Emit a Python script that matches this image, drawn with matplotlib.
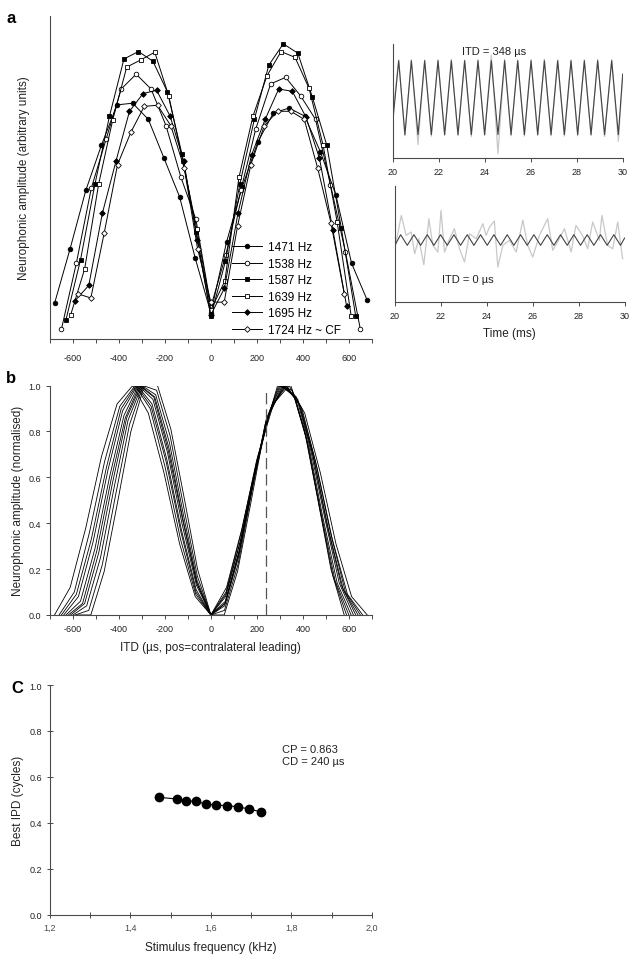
import matplotlib
matplotlib.use('Agg')
import matplotlib.pyplot as plt
from matplotlib.ticker import MultipleLocator, FuncFormatter, NullLocator

plt.rcParams['font.family'] = ['Liberation Sans', 'DejaVu Sans']
plt.rcParams['axes.linewidth'] = 0.8
plt.rcParams['axes.unicode_minus'] = False

# ---------------- data ----------------
itd_1471 = [-680, -612, -544, -476, -408, -340, -272, -204, -136, -68, 0, 68, 136, 204, 272, 340, 408, 476, 544, 612, 680]
itd_1515 = [-660, -594, -528, -462, -396, -330, -264, -198, -132, -66, 0, 66, 132, 198, 264, 330, 396, 462, 528, 594, 660]
itd_1538 = [-650, -585, -520, -455, -390, -325, -260, -195, -130, -65, 0, 65, 130, 195, 260, 325, 390, 455, 520, 585, 650]
itd_1563 = [-640, -576, -512, -448, -384, -320, -256, -192, -128, -64, 0, 64, 128, 192, 256, 320, 384, 448, 512, 576, 640]
itd_1587 = [-630, -567, -504, -441, -378, -315, -252, -189, -126, -63, 0, 63, 126, 189, 252, 315, 378, 441, 504, 567, 630]
itd_1613 = [-620, -558, -496, -434, -372, -310, -248, -186, -124, -62, 0, 62, 124, 186, 248, 310, 372, 434, 496, 558, 620]
itd_1639 = [-610, -549, -488, -427, -366, -305, -244, -183, -122, -61, 0, 61, 122, 183, 244, 305, 366, 427, 488, 549, 610]
itd_1667 = [-600, -540, -480, -420, -360, -300, -240, -180, -120, -60, 0, 60, 120, 180, 240, 300, 360, 420, 480, 540, 600]
itd_1695 = [-590, -531, -472, -413, -354, -295, -236, -177, -118, -59, 0, 59, 118, 177, 236, 295, 354, 413, 472, 531, 590]
itd_1724 = [-580, -522, -464, -406, -348, -290, -232, -174, -116, -58, 0, 58, 116, 174, 232, 290, 348, 406, 464, 522, 580]

# panel a: raw neurophonic amplitude (arbitrary units)
amp_1471 = [0.11, 0.28, 0.46, 0.60, 0.725, 0.73, 0.68, 0.56, 0.44, 0.25, 0.08, 0.30, 0.47, 0.61, 0.70, 0.715, 0.69, 0.58, 0.445, 0.234, 0.12]
amp_1538 = [0.03, 0.235, 0.467, 0.62, 0.774, 0.82, 0.774, 0.66, 0.50, 0.37, 0.10, 0.26, 0.46, 0.65, 0.79, 0.81, 0.753, 0.68, 0.478, 0.27, 0.03]
amp_1587 = [0.06, 0.245, 0.48, 0.69, 0.867, 0.89, 0.86, 0.765, 0.573, 0.33, 0.07, 0.24, 0.48, 0.68, 0.848, 0.914, 0.885, 0.75, 0.60, 0.344, 0.07]
amp_1639 = [0.074, 0.217, 0.48, 0.678, 0.842, 0.864, 0.888, 0.752, 0.55, 0.34, 0.09, 0.18, 0.50, 0.69, 0.815, 0.89, 0.872, 0.776, 0.60, 0.363, 0.072]
amp_1695 = [0.119, 0.166, 0.389, 0.55, 0.705, 0.76, 0.77, 0.69, 0.55, 0.305, 0.075, 0.157, 0.39, 0.57, 0.68, 0.774, 0.767, 0.688, 0.56, 0.336, 0.103]
amp_1724 = [0.14, 0.127, 0.328, 0.54, 0.64, 0.72, 0.724, 0.66, 0.53, 0.28, 0.114, 0.114, 0.35, 0.54, 0.66, 0.705, 0.705, 0.68, 0.53, 0.36, 0.14]
labels_a = ['1471 Hz', '1538 Hz', '1587 Hz', '1639 Hz', '1695 Hz', '1724 Hz ~ CF']

# panel b: normalised amplitude
norm_1471 = [0.00, 0.12, 0.38, 0.69, 0.92, 1.00, 0.88, 0.62, 0.31, 0.08, 0.00, 0.12, 0.38, 0.69, 0.92, 1.00, 0.88, 0.62, 0.31, 0.08, 0.00]
norm_1515 = [0.00, 0.10, 0.36, 0.67, 0.91, 1.00, 0.90, 0.64, 0.33, 0.09, 0.00, 0.10, 0.36, 0.67, 0.91, 1.00, 0.90, 0.64, 0.33, 0.09, 0.00]
norm_1538 = [0.00, 0.09, 0.33, 0.64, 0.90, 1.00, 0.91, 0.67, 0.36, 0.10, 0.00, 0.09, 0.33, 0.64, 0.90, 1.00, 0.91, 0.67, 0.36, 0.10, 0.00]
norm_1563 = [0.00, 0.08, 0.32, 0.63, 0.89, 1.00, 0.92, 0.68, 0.37, 0.11, 0.00, 0.08, 0.32, 0.63, 0.89, 1.00, 0.92, 0.68, 0.37, 0.11, 0.00]
norm_1587 = [0.00, 0.06, 0.29, 0.60, 0.87, 1.00, 0.94, 0.71, 0.40, 0.13, 0.00, 0.06, 0.29, 0.60, 0.87, 1.00, 0.94, 0.71, 0.40, 0.13, 0.00]
norm_1613 = [0.00, 0.05, 0.28, 0.59, 0.86, 1.00, 0.95, 0.72, 0.42, 0.14, 0.00, 0.05, 0.28, 0.59, 0.86, 1.00, 0.95, 0.72, 0.42, 0.14, 0.00]
norm_1639 = [0.00, 0.05, 0.27, 0.58, 0.86, 1.00, 0.95, 0.73, 0.42, 0.14, 0.00, 0.05, 0.27, 0.58, 0.86, 1.00, 0.95, 0.73, 0.42, 0.14, 0.00]
norm_1667 = [0.00, 0.04, 0.25, 0.56, 0.85, 1.00, 0.96, 0.75, 0.44, 0.15, 0.00, 0.04, 0.25, 0.56, 0.85, 1.00, 0.96, 0.75, 0.44, 0.15, 0.00]
norm_1695 = [0.00, 0.02, 0.22, 0.53, 0.83, 1.00, 0.98, 0.78, 0.47, 0.17, 0.00, 0.02, 0.22, 0.53, 0.83, 1.00, 0.98, 0.78, 0.47, 0.17, 0.00]
norm_1724 = [0.00, 0.00, 0.19, 0.49, 0.80, 1.00, 1.00, 0.81, 0.51, 0.20, 0.00, 0.00, 0.19, 0.49, 0.80, 1.00, 1.00, 0.81, 0.51, 0.20, 0.00]
cd_us = 240

# panel c: best IPD vs stimulus frequency
freq_khz = [1.471, 1.515, 1.538, 1.563, 1.587, 1.613, 1.639, 1.667, 1.695, 1.724]
best_ipd = [0.511, 0.504, 0.496, 0.493, 0.482, 0.477, 0.475, 0.470, 0.460, 0.448]
cp_text = 'CP = 0.863\nCD = 240 µs'

# waveform insets (time in ms)
t_top = [20.00, 20.25, 20.52, 20.80, 21.09, 21.38, 21.67, 21.96, 22.25, 22.54, 22.83, 23.12, 23.41,
         23.70, 23.99, 24.28, 24.57, 24.86, 25.14, 25.43, 25.72, 26.01, 26.30, 26.59, 26.88, 27.17,
         27.46, 27.75, 28.04, 28.33, 28.62, 28.91, 29.21, 29.52, 29.81, 30.00]
fit_top = [-0.60, 1.00, -1.00, 1.00, -1.00, 1.00, -1.00, 1.00, -1.00, 1.00, -1.00, 1.00, -1.00,
           1.00, -1.00, 1.00, -1.00, 1.00, -1.00, 1.00, -1.00, 1.00, -1.00, 1.00, -1.00, 1.00,
           -1.00, 1.00, -1.00, 1.00, -1.00, 1.00, -1.00, 1.00, -1.00, 0.64]
rec_top = [-0.40, 1.02, -1.03, 1.03, -1.27, 1.02, -1.04, 1.03, -1.02, 1.04, -1.03, 1.02, -1.05,
           1.03, -1.02, 1.15, -1.51, 1.04, -1.03, 1.02, -1.04, 1.03, -1.02, 1.04, -1.03, 1.02,
           -1.04, 1.02, -1.03, 1.03, -1.02, 1.04, -1.05, 1.03, -1.18, 0.60]
t_bot = [20.00, 20.25, 20.54, 20.83, 21.12, 21.41, 21.70, 21.99, 22.28, 22.57, 22.86, 23.15, 23.44,
         23.73, 24.02, 24.31, 24.60, 24.89, 25.18, 25.47, 25.76, 26.05, 26.34, 26.63, 26.92, 27.21,
         27.50, 27.79, 28.08, 28.37, 28.66, 28.95, 29.24, 29.53, 29.82, 30.00]
fit_bot = [-0.53, 0.53, -0.53, 0.53, -0.53, 0.53, -0.53, 0.53, -0.53, 0.53, -0.53, 0.53, -0.53,
           0.53, -0.53, 0.53, -0.53, 0.53, -0.53, 0.53, -0.53, 0.53, -0.53, 0.53, -0.53, 0.53,
           -0.53, 0.53, -0.53, 0.53, -0.53, 0.53, -0.53, 0.53, -0.53, 0.20]
t_noise = [20.00, 20.28, 20.49, 20.71, 20.86, 21.04, 21.26, 21.48, 21.65, 21.87, 22.01, 22.16, 22.38,
           22.59, 22.81, 23.03, 23.25, 23.54, 23.83, 23.97, 24.12, 24.33, 24.48, 24.70, 24.99, 25.28,
           25.57, 25.78, 26.00, 26.29, 26.65, 26.87, 27.16, 27.38, 27.67, 27.88, 28.17, 28.39, 28.61,
           28.90, 29.01, 29.26, 29.48, 29.70, 29.91]
rec_bot = [-0.87, 2.46, 0.46, 0.80, -1.37, 0.13, -2.47, 2.13, -0.53, -1.20, 2.96, -1.20, 0.13,
           1.13, -0.87, -2.20, 0.63, 0.13, 1.63, 0.46, 1.30, 1.90, -2.70, -0.53, -0.03, -1.20,
           2.00, -0.53, -1.70, 0.46, 2.13, -1.03, 0.13, 1.13, -1.20, 1.46, 0.46, -0.87, 1.80,
           -0.03, 2.46, -0.53, -0.87, 1.80, -1.87]

# ---------------- figure ----------------
SPINE = '#4a4a4a'
TXT = '#222222'
fig = plt.figure(figsize=(6.4, 9.62), dpi=100)


def style(ax):
    for s in ('top', 'right'):
        ax.spines[s].set_visible(False)
    for s in ('left', 'bottom'):
        ax.spines[s].set_color(SPINE)
    ax.tick_params(colors=SPINE, labelcolor=TXT, labelsize=6.5, length=3, width=0.7)


# Panel a main
ax = fig.add_axes([0.078, 0.6466, 0.503, 0.3357])
style(ax)
series_a = [(itd_1471, amp_1471, 'o', 'k'), (itd_1538, amp_1538, 'o', 'w'),
            (itd_1587, amp_1587, 's', 'k'), (itd_1639, amp_1639, 's', 'w'),
            (itd_1695, amp_1695, 'D', 'k'), (itd_1724, amp_1724, 'D', 'w')]
for (x, y, m, fc), lab in zip(series_a, labels_a):
    ms = 3.3 if m != 'D' else 2.9
    ax.plot(x, y, color='k', lw=0.7, marker=m, ms=ms, mfc=fc, mec='k', mew=0.6, label=lab)
ax.set_xlim(-700, 700)
ax.set_ylim(0, 1)
ax.xaxis.set_major_locator(MultipleLocator(200))
ax.xaxis.set_minor_locator(MultipleLocator(100))
ax.tick_params(axis='x', which='minor', length=3, width=0.7, colors=SPINE)
ax.tick_params(axis='x', which='major', pad=7)
ax.yaxis.set_major_locator(NullLocator())
ax.set_ylabel('Neurophonic amplitude (arbitrary units)', fontsize=8.5, labelpad=14, color=TXT)
ax.legend(loc='lower left', bbox_to_anchor=(0.565, 0.01), frameon=False, fontsize=8.5,
          handlelength=2.6, handletextpad=0.5, labelspacing=0.38, borderaxespad=0, borderpad=0)
fig.text(0.010, 0.989, 'a', fontsize=12, fontweight='bold', va='top')

# Panel a: top-right waveform
ax1 = fig.add_axes([0.614, 0.8347, 0.359, 0.1185])
style(ax1)
ax1.plot(t_top, rec_top, color='#c8c8c8', lw=0.9)
ax1.plot(t_top, fit_top, color='#444444', lw=0.8)
ax1.set_xlim(20, 30)
ax1.set_ylim(-1.63, 1.45)
ax1.xaxis.set_major_locator(MultipleLocator(2))
ax1.yaxis.set_major_locator(NullLocator())
ax1.text(22.99, 1.27, 'ITD = 348 µs', fontsize=8, va='center', ha='left', color=TXT)

# Panel a: bottom-right waveform
ax2 = fig.add_axes([0.617, 0.685, 0.359, 0.1206])
style(ax2)
ax2.plot(t_noise, rec_bot, color='#c8c8c8', lw=0.9)
ax2.plot(t_bot, fit_bot, color='#444444', lw=0.8)
ax2.set_xlim(20, 30)
ax2.set_ylim(-6.2, 5.4)
ax2.xaxis.set_major_locator(MultipleLocator(2))
ax2.yaxis.set_major_locator(NullLocator())
ax2.text(22.03, -3.87, 'ITD = 0 µs', fontsize=8, va='center', ha='left', color=TXT)
ax2.set_xlabel('Time (ms)', fontsize=8.5, labelpad=5, color=TXT)

# Panel b
axb = fig.add_axes([0.078, 0.3597, 0.503, 0.2384])
style(axb)
series_b = [(itd_1471, norm_1471), (itd_1515, norm_1515), (itd_1538, norm_1538), (itd_1563, norm_1563),
            (itd_1587, norm_1587), (itd_1613, norm_1613), (itd_1639, norm_1639), (itd_1667, norm_1667),
            (itd_1695, norm_1695), (itd_1724, norm_1724)]
for x, y in series_b:
    axb.plot(x, y, color='k', lw=0.6)
axb.axvline(cd_us, ymin=0, ymax=0.98, color='#555555', lw=0.9, ls=(0, (9, 4)))
axb.set_xlim(-700, 700)
axb.set_ylim(0, 1)
axb.xaxis.set_major_locator(MultipleLocator(200))
axb.xaxis.set_minor_locator(MultipleLocator(100))
axb.tick_params(axis='x', which='minor', length=3, width=0.7, colors=SPINE)
axb.yaxis.set_major_locator(MultipleLocator(0.2))
axb.yaxis.set_major_formatter(FuncFormatter(lambda v, p: f'{v:.1f}'))
axb.set_xlabel('ITD (µs, pos=contralateral leading)', fontsize=8.5, labelpad=6, color=TXT)
axb.set_ylabel('Neurophonic amplitude (normalised)', fontsize=8.5, labelpad=3, color=TXT)
fig.text(0.010, 0.614, 'b', fontsize=12, fontweight='bold', va='top')

# Panel c
axc = fig.add_axes([0.078, 0.0481, 0.503, 0.2388])
style(axc)
axc.plot(freq_khz, best_ipd, color='k', lw=0.8, marker='o', ms=6, mfc='k', mec='k')
axc.set_xlim(1.2, 2.0)
axc.set_ylim(0, 1)
axc.xaxis.set_major_locator(MultipleLocator(0.2))
axc.xaxis.set_minor_locator(MultipleLocator(0.1))
axc.xaxis.set_major_formatter(FuncFormatter(lambda v, p: f'{v:.1f}'.replace('.', ',')))
axc.tick_params(axis='x', which='both', direction='inout', length=4, width=0.7, colors=SPINE)
axc.yaxis.set_major_locator(MultipleLocator(0.2))
axc.yaxis.set_major_formatter(FuncFormatter(lambda v, p: f'{v:.1f}'))
axc.tick_params(axis='y', direction='inout', length=4)
axc.set_xlabel('Stimulus frequency (kHz)', fontsize=8.5, labelpad=7, color=TXT)
axc.set_ylabel('Best IPD (cycles)', fontsize=8.5, labelpad=4, color=TXT)
axc.text(1.776, 0.695, cp_text, fontsize=8, va='center', ha='left', linespacing=1.3, color=TXT)
fig.text(0.018, 0.292, 'C', fontsize=12, fontweight='bold', va='top')

fig.savefig('out.png', dpi=100)
